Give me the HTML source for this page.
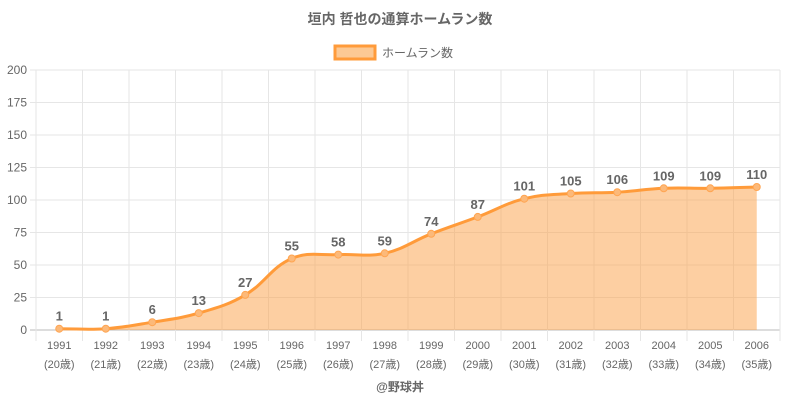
<!DOCTYPE html>
<html><head><meta charset="utf-8"><style>
body{margin:0;background:#fff;width:800px;height:400px;overflow:hidden;font-family:"Liberation Sans","Noto Sans CJK JP",sans-serif}
</style></head><body>
<svg id="s" width="800" height="400" xmlns="http://www.w3.org/2000/svg" font-family="Liberation Sans, Noto Sans CJK JP, sans-serif">
<text x="400" y="24" text-anchor="middle" font-size="14" font-weight="bold" fill="#666">垣内 哲也の通算ホームラン数</text>
<rect x="335" y="46" width="40" height="13" fill="#fcc994" stroke="#ff9b3a" stroke-width="3"/>
<text x="382" y="57" font-size="12" fill="#666">ホームラン数</text>
<text x="400" y="391" text-anchor="middle" font-size="12" font-weight="bold" fill="#666">@野球丼</text>
<g id="g"></g>
</svg>
<script>
const d=[1,1,6,13,27,55,58,59,74,87,101,105,106,109,109,110];
const L=36,R=780,T=70,B=330,w=(R-L)/16;
const X=i=>L+w/2+w*i, Y=v=>B-(v/200)*(B-T);
let h='';
for(let v=0;v<=200;v+=25){const y=Y(v);h+=`<line x1="${L-6}" x2="${R}" y1="${y}" y2="${y}" stroke="${v?'#e6e6e6':'#bbb'}"/>`;
h+=`<text x="${L-9}" y="${y+4}" text-anchor="end" font-size="12" fill="#666">${v}</text>`;}
for(let i=0;i<=16;i++){const x=L+w*i;h+=`<line x1="${x}" x2="${x}" y1="${T}" y2="${B+11}" stroke="#e6e6e6"/>`;}
for(let i=0;i<16;i++){h+=`<text x="${X(i)}" y="349" text-anchor="middle" font-size="11" fill="#666">${1991+i}</text><text x="${X(i)}" y="368" text-anchor="middle" font-size="11" fill="#666">(${20+i}歳)</text>`;}
const p=d.map((v,i)=>[X(i),Y(v)]);
const cp=[];const t=0.4;
for(let i=0;i<p.length;i++){const a=p[Math.max(i-1,0)],b=p[i],c=p[Math.min(i+1,p.length-1)];
const d01=Math.hypot(b[0]-a[0],b[1]-a[1]),d12=Math.hypot(c[0]-b[0],c[1]-b[1]);
let fa=d01/(d01+d12)||0,fb=d12/(d01+d12)||0;fa*=t;fb*=t;
cp.push([[b[0]-fa*(c[0]-a[0]),b[1]-fa*(c[1]-a[1])],[b[0]+fb*(c[0]-a[0]),b[1]+fb*(c[1]-a[1])]]);}
let path=`M${p[0][0]},${p[0][1]}`;
for(let i=1;i<p.length;i++){const c1=cp[i-1][1],c2=cp[i][0];path+=` C${c1[0]},${Math.min(c1[1],B)} ${c2[0]},${Math.min(c2[1],B)} ${p[i][0]},${p[i][1]}`;}
h+=`<path d="${path} L${p[15][0]},${B} L${p[0][0]},${B}Z" fill="rgba(252,160,70,0.5)"/>`;
h+=`<path d="${path}" fill="none" stroke="#ff9b3a" stroke-width="3"/>`;
p.forEach((q,i)=>{h+=`<circle cx="${q[0]}" cy="${q[1]}" r="3.5" fill="#fcb979" stroke="#ffa552" stroke-width="1"/>`;
h+=`<text x="${q[0]}" y="${q[1]-8}" text-anchor="middle" font-size="13" font-weight="bold" fill="#666">${d[i]}</text>`;});
document.getElementById('g').innerHTML=h;
</script>
</body></html>
